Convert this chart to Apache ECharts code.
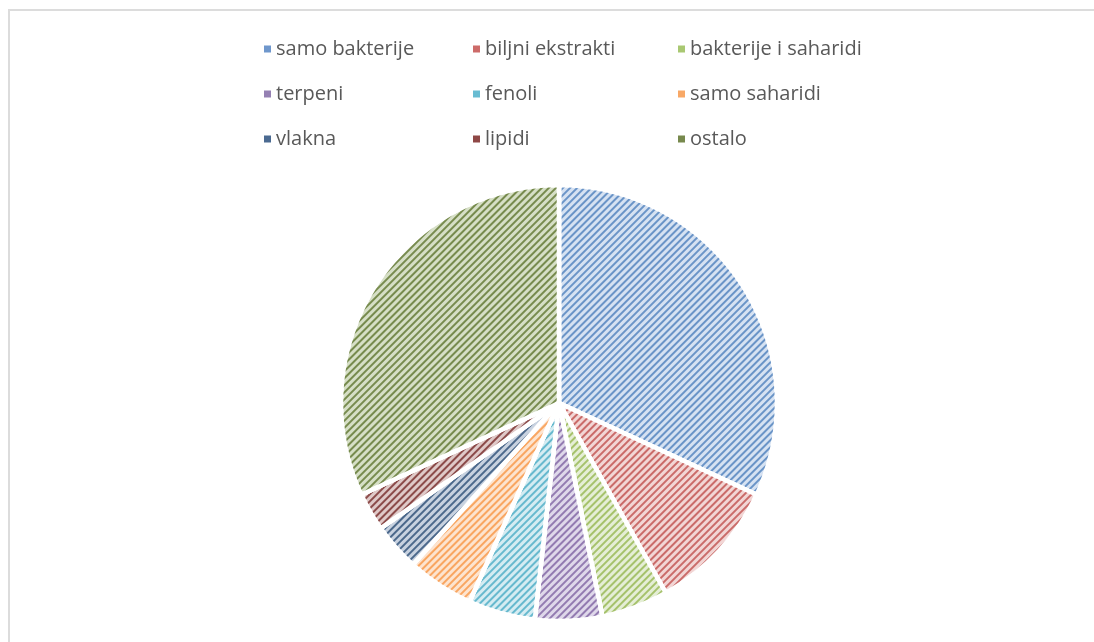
<!DOCTYPE html>
<html>
<head>
<meta charset="utf-8">
<script src="https://cdn.jsdelivr.net/npm/echarts@6/dist/echarts.min.js"></script>
<style>
html, body { margin: 0; padding: 0; background: #fff; }
#frame { position: absolute; left: 8px; top: 9px; width: 1100px; height: 650px;
         border-top: 2px solid #dcdcdc; border-left: 2px solid #dcdcdc; }
#chart { position: absolute; left: 0; top: 0; width: 1094px; height: 642px; }
</style>
</head>
<body>
<div id="frame"></div>
<div id="chart"></div>
<script>
// podaci
var categories = ['samo bakterije', 'biljni ekstrakti', 'bakterije i saharidi',
                  'terpeni', 'fenoli', 'samo saharidi',
                  'vlakna', 'lipidi', 'ostalo'];
var values = [45, 14, 7, 7, 7, 7, 5, 4, 45];
var baseColors = ['rgba(79,129,189,0.8)', 'rgba(192,80,77,0.8)', 'rgba(155,187,89,0.85)',
                  'rgba(128,100,162,0.8)', 'rgba(75,172,198,0.8)', 'rgba(247,150,70,0.8)',
                  'rgba(44,77,117,0.8)', 'rgba(119,44,42,0.8)', 'rgba(95,117,48,0.8)'];
var tintColors = ['#d6e2f2', '#f2d6d5', '#e5eed6', '#dfd8ea', '#d5ecf2', '#fde4cf',
                  '#c8d2e0', '#dfc9c8', '#d6dfc6'];
var iconColors = ['#6f97cc', '#cd6b69', '#a9c872', '#9580b3', '#68bcd2', '#f8a866',
                  '#4b6a91', '#8f4846', '#77894d'];

var pieData = categories.map(function (name, i) {
    return {
        name: name,
        value: values[i],
        itemStyle: {
            color: tintColors[i],
            decal: {
                symbol: 'rect',
                color: baseColors[i],
                dashArrayX: [1, 0],
                dashArrayY: [1.1, 2.6],
                rotation: -Math.PI / 4
            }
        }
    };
});

function col(idx, left) {
    return {
        orient: 'vertical',
        left: left,
        top: 34,
        itemGap: 25,
        itemWidth: 9,
        itemHeight: 9,
        icon: 'rect',
        data: idx.map(function (i) {
            return { name: categories[i], itemStyle: { color: iconColors[i], decal: 'none' } };
        }),
        textStyle: { fontSize: 20, color: '#595959', fontFamily: 'Open Sans', padding: [0, 0, 0, -1] }
    };
}

var chart = echarts.init(document.getElementById('chart'));
var option = {
    animation: false,
    legend: [
        col([0, 3, 6], 257),
        col([1, 4, 7], 466),
        col([2, 5, 8], 671)
    ],
    series: [{
        type: 'pie',
        center: [559, 403],
        radius: [0, 218],
        startAngle: 90,
        clockwise: true,
        label: { show: false },
        labelLine: { show: false },
        itemStyle: { borderColor: '#fff', borderWidth: 4.5 },
        emphasis: { disabled: true },
        data: pieData
    }]
};
chart.setOption(option);
</script>
</body>
</html>
